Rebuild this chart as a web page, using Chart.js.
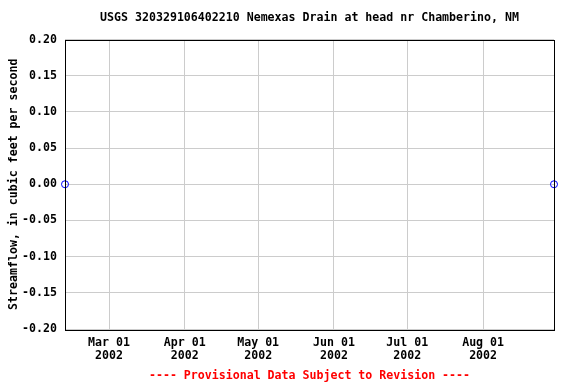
<!DOCTYPE html>
<html>
<head>
<meta charset="utf-8">
<script src="https://cdn.jsdelivr.net/npm/chart.js@4/dist/chart.umd.min.js"></script>
<style>
  html, body { margin: 0; padding: 0; background: #fff; }
  #wrap { width: 576px; height: 384px; }
</style>
</head>
<body>
<div id="wrap"><canvas id="chart"></canvas></div>
<script>
// day of year 2002
const flowDays = [42, 242];
const flowValues = [0.0, 0.0];
const tickDays = [60, 91, 121, 152, 182, 213];
const tickLabels = [
    ["Mar 01", "2002"],
    ["Apr 01", "2002"],
    ["May 01", "2002"],
    ["Jun 01", "2002"],
    ["Jul 01", "2002"],
    ["Aug 01", "2002"],
];
const yMin = -0.2;
const yMax = 0.2;
const yStep = 0.05;
const chartTitle = "USGS 320329106402210 Nemexas Drain at head nr Chamberino, NM";
const footerText = "---- Provisional Data Subject to Revision ----";

const monoFont = "'DejaVu Sans Mono', 'Liberation Mono', monospace";
const fontSize = 11.6;

// box round the plot, title and footer centred on the plot area
const frame = {
    id: "frame",
    afterDatasetsDraw(chart) {
        const { ctx, chartArea: a } = chart;
        ctx.save();
        ctx.strokeStyle = "#000";
        ctx.lineWidth = 1;
        ctx.strokeRect(Math.round(a.left) + 0.5, Math.round(a.top) + 0.5,
            Math.round(a.right - a.left), Math.round(a.bottom - a.top));
        const cx = (a.left + a.right) / 2;
        ctx.font = "bold " + fontSize + "px " + monoFont;
        ctx.textAlign = "center";
        ctx.textBaseline = "alphabetic";
        ctx.fillStyle = "#000";
        ctx.fillText(chartTitle, cx, 21);
        ctx.fillStyle = "#ff0000";
        ctx.fillText(footerText, cx, 379);
        ctx.restore();
    },
};

new Chart(document.getElementById("chart"), {
    type: "scatter",
    data: {
        datasets: [
            {
                data: flowDays.map((d, i) => ({ x: d, y: flowValues[i] })),
                showLine: false,
                pointStyle: "circle",
                pointRadius: 3.5,
                pointBorderWidth: 1,
                pointBorderColor: "#0000ff",
                pointBackgroundColor: "rgba(0,0,0,0)",
                clip: false,
            },
        ],
    },
    options: {
        responsive: true,
        maintainAspectRatio: false,
        animation: false,
        layout: {
            padding: { top: 39.5, right: 22, bottom: 0, left: 0 },
        },
        plugins: {
            legend: { display: false },
            tooltip: { enabled: false },
        },
        scales: {
            x: {
                type: "linear",
                min: flowDays[0],
                max: flowDays[flowDays.length - 1],
                afterBuildTicks: (scale) => {
                    scale.ticks = tickDays.map((v) => ({ value: v }));
                },
                afterFit: (scale) => {
                    scale.height = 55;
                },
                border: { display: false },
                grid: {
                    color: "#cccccc",
                    lineWidth: 1,
                    drawTicks: false,
                },
                ticks: {
                    color: "#000",
                    padding: 8,
                    autoSkip: false,
                    maxRotation: 0,
                    font: { family: monoFont, size: fontSize, weight: "bold", lineHeight: 1.1 },
                    callback: (value) => tickLabels[tickDays.indexOf(value)],
                },
            },
            y: {
                min: yMin,
                max: yMax,
                afterFit: (scale) => {
                    scale.width = 65;
                },
                border: { display: false },
                grid: {
                    color: "#cccccc",
                    lineWidth: 1,
                    drawTicks: false,
                },
                ticks: {
                    stepSize: yStep,
                    color: "#000",
                    padding: 8,
                    font: { family: monoFont, size: fontSize, weight: "bold" },
                    callback: (value) => value.toFixed(2),
                },
                title: {
                    display: true,
                    text: "Streamflow, in cubic feet per second",
                    color: "#000",
                    font: { family: monoFont, size: fontSize, weight: "bold", lineHeight: 1.2 },
                    padding: { top: 7, bottom: 0 },
                },
            },
        },
    },
    plugins: [frame],
});
</script>
</body>
</html>
